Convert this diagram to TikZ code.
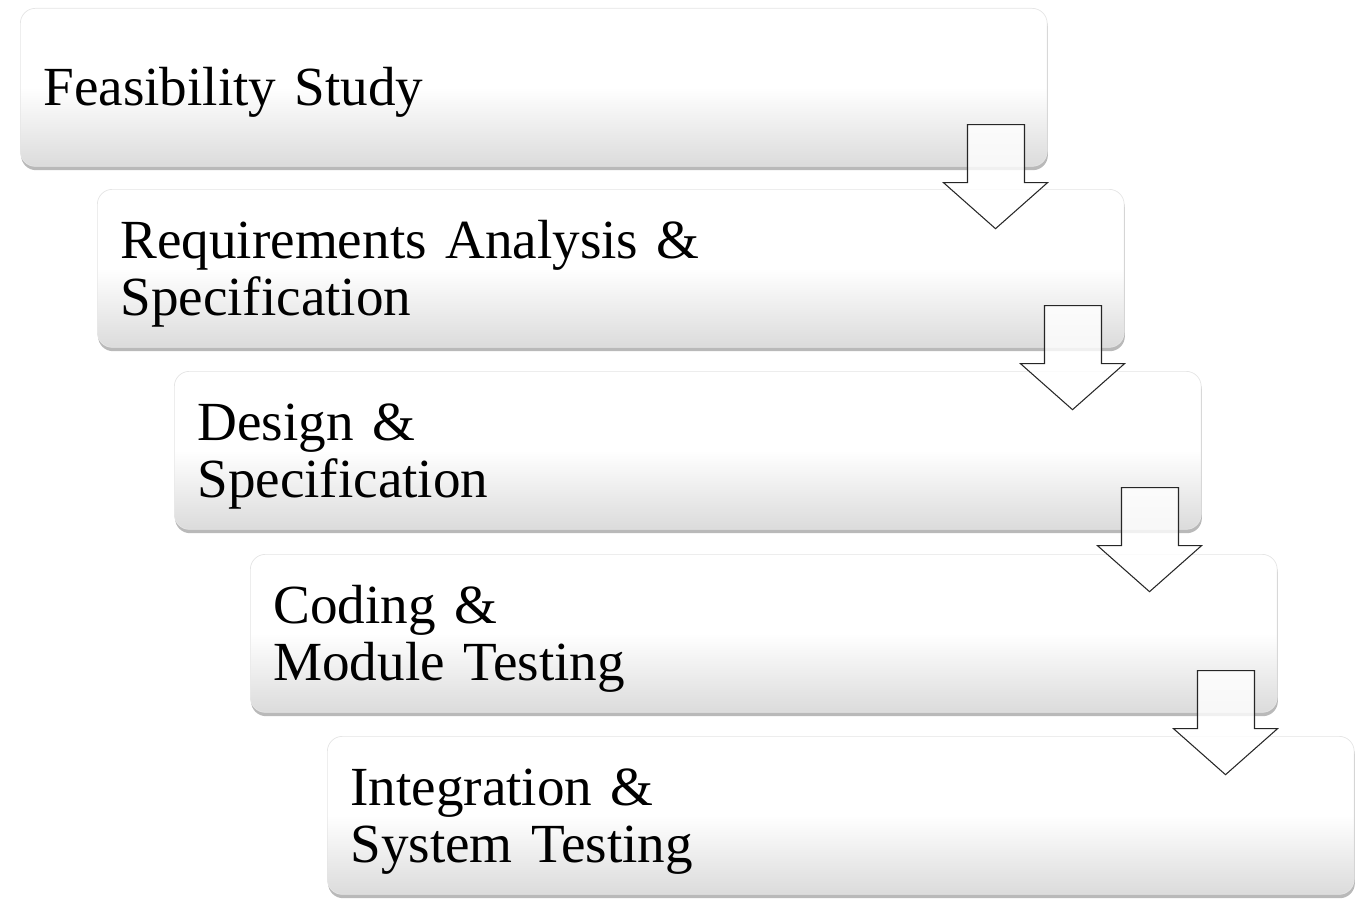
\documentclass[tikz,border=0pt]{standalone}
\usepackage{fontspec}
\setmainfont{Liberation Serif}
\usetikzlibrary{shadows}

\tikzset{
  phase/.style={rounded corners=15*0.02cm, draw=black!10, line width=0.4pt,
    top color=white, bottom color=black!14, middle color=white,
    drop shadow={opacity=0.55, shadow xshift=0.4pt, shadow yshift=-2.2pt},
    minimum width=20.54cm, minimum height=3.16cm, text width=19.62cm,
    inner xsep=0.46cm, inner ysep=0pt, align=left, anchor=north west,
    execute at begin node={\rule{0pt}{0.89em}},
    font=\fontsize{31.4}{32.6}\selectfont},
  downarrow/.style={draw=black!85, line width=0.6pt, fill=white, fill opacity=0.8}
}

\begin{document}
\begin{tikzpicture}[x=0.02cm, y=-0.02cm]
    \useasboundingbox (0,0) rectangle (1364,919);
    % the five phases
    \node[phase] (feas) at (20,8)  {Feasibility Study};
    \node[phase] (req)  at (97,189) {Requirements Analysis \&\\Specification};
    \node[phase] (des)  at (174,371) {Design \&\\Specification};
    \node[phase] (cod)  at (250,554) {Coding \&\\Module Testing};
    \node[phase] (integ) at (327,736) {Integration \&\\System Testing};
    % block arrows between phases
    \begin{scope}[shift={(feas.south east)}]
    \draw[downarrow] (-80,-42) -- (-23,-42) -- (-23,16) -- (0,16) -- (-52,62) -- (-104,16) -- (-80,16) -- cycle;
    \end{scope}
    \begin{scope}[shift={(req.south east)}]
    \draw[downarrow] (-80,-42) -- (-23,-42) -- (-23,16) -- (0,16) -- (-52,62) -- (-104,16) -- (-80,16) -- cycle;
    \end{scope}
    \begin{scope}[shift={(des.south east)}]
    \draw[downarrow] (-80,-42) -- (-23,-42) -- (-23,16) -- (0,16) -- (-52,62) -- (-104,16) -- (-80,16) -- cycle;
    \end{scope}
    \begin{scope}[shift={(cod.south east)}]
    \draw[downarrow] (-80,-42) -- (-23,-42) -- (-23,16) -- (0,16) -- (-52,62) -- (-104,16) -- (-80,16) -- cycle;
    \end{scope}
\end{tikzpicture}
\end{document}
